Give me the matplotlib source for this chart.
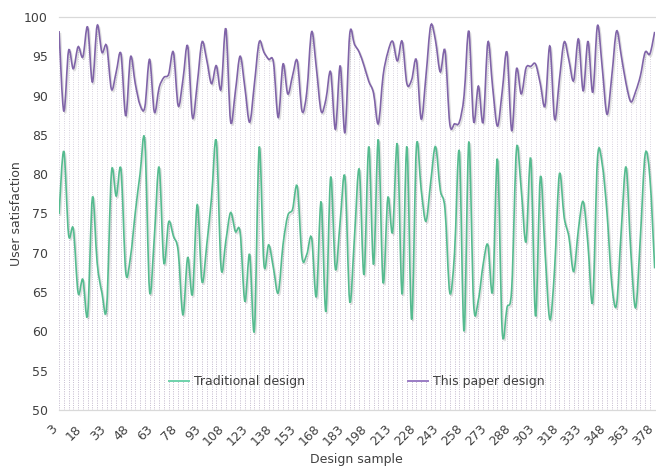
import numpy as np
import matplotlib
matplotlib.use("Agg")
import matplotlib.pyplot as plt
import matplotlib.transforms as mtransforms
from matplotlib.path import Path
from matplotlib.patches import PathPatch
import matplotlib.patheffects as pe

########### data ###########

samples = list(range(3, 381, 3))   # design sample categories 3, 6, ..., 378

traditional = [
    74.9, 82.9, 72.3, 73.0, 64.9, 66.6, 62.1, 77.0, 68.7, 64.9,
    63.1, 80.2, 77.2, 80.6, 67.5, 69.5, 75.1, 80.0, 84.2, 65.1,
    72.0, 80.9, 68.7, 73.9, 72.1, 70.2, 62.1, 69.4, 64.7, 76.1,
    66.3, 71.0, 77.0, 84.2, 68.1, 71.5, 75.1, 72.7, 72.6, 63.8,
    69.8, 60.2, 83.4, 68.5, 71.0, 68.0, 64.9, 71.0, 74.7, 75.5,
    78.4, 69.4, 69.8, 71.9, 64.4, 76.5, 62.5, 79.6, 67.9, 74.0,
    79.6, 63.8, 72.0, 80.6, 67.2, 83.5, 68.5, 84.4, 66.2, 77.0,
    72.6, 83.8, 64.7, 83.5, 61.5, 83.5, 78.0, 74.0, 79.0, 83.5,
    78.0, 75.5, 64.9, 70.0, 82.9, 60.0, 84.1, 63.5, 64.0, 68.5,
    71.0, 65.1, 81.9, 60.0, 63.0, 65.5, 83.2, 78.0, 71.4, 81.9,
    61.9, 79.6, 70.0, 61.5, 68.0, 80.0, 74.5, 72.0, 67.6, 73.0,
    76.5, 71.0, 63.8, 82.0, 81.2, 75.0, 66.0, 63.4, 73.0, 80.9,
    70.0, 63.0, 72.0, 82.5, 79.5, 68.0,
]

this_paper = [
    98.2, 88.0, 95.7, 93.4, 96.2, 94.9, 98.7, 91.7, 98.9, 95.5,
    96.3, 90.8, 93.0, 95.3, 87.4, 94.9, 91.5, 88.8, 88.5, 94.6,
    87.9, 91.0, 92.3, 92.7, 95.5, 88.7, 92.0, 96.3, 87.2, 91.5,
    96.8, 94.5, 91.5, 93.8, 90.8, 98.5, 86.7, 90.5, 95.0, 91.0,
    86.6, 91.5, 96.8, 95.5, 94.6, 94.2, 87.2, 94.0, 90.2, 92.5,
    94.4, 88.0, 90.5, 98.1, 93.5, 88.0, 89.5, 93.0, 85.7, 93.8,
    85.3, 97.8, 96.5, 95.5, 93.8, 91.8, 90.3, 86.4, 92.5, 95.5,
    96.9, 94.4, 96.9, 91.5, 92.0, 94.5, 87.0, 92.5, 98.9, 97.0,
    93.0, 95.7, 86.4, 86.4, 86.6, 90.0, 98.2, 86.7, 91.2, 86.6,
    96.8, 91.0, 86.1, 90.5, 95.5, 85.5, 93.4, 90.2, 93.5, 93.7,
    94.0, 91.5, 88.7, 96.3, 87.0, 92.0, 96.8, 94.5, 91.9, 97.2,
    90.6, 96.9, 90.4, 98.9, 93.5, 87.6, 92.5, 98.2, 95.0, 91.5,
    89.2, 90.5, 92.5, 95.5, 95.3, 98.1,
]

tick_labels = ['3', '18', '33', '48', '63', '78', '93', '108', '123', '138',
               '153', '168', '183', '198', '213', '228', '243', '258', '273',
               '288', '303', '318', '333', '348', '363', '378']
y_ticks = [50, 55, 60, 65, 70, 75, 80, 85, 90, 95, 100]

############################

text_col = '#404040'
green = '#55bb8f'
purple = '#8064a8'
drop_col = '#c2b9cd'


def smooth_path(x, y):
    # bezier curve through the points, like a spreadsheet "smoothed line"
    x = np.asarray(x, float)
    y = np.asarray(y, float)
    n = len(x)
    verts = [(x[0], y[0])]
    codes = [Path.MOVETO]
    for i in range(n - 1):
        i0 = max(i - 1, 0)
        i3 = min(i + 2, n - 1)
        c1 = (x[i] + (x[i + 1] - x[i0]) / 6, y[i] + (y[i + 1] - y[i0]) / 6)
        c2 = (x[i + 1] - (x[i3] - x[i]) / 6, y[i + 1] - (y[i3] - y[i]) / 6)
        verts += [c1, c2, (x[i + 1], y[i + 1])]
        codes += [Path.CURVE4] * 3
    return Path(verts, codes)


fig = plt.figure(figsize=(6.56, 4.70), dpi=100)
ax = fig.add_axes([0.09, 0.128, 0.908, 0.836])

# drop lines
ax.vlines(samples, 50, this_paper, colors=drop_col, linestyles=(0, (1, 2)), lw=0.55, zorder=1)
ax.vlines(samples, 50, traditional, colors=drop_col, linestyles=(0, (1, 2)), lw=0.55, zorder=1)

shadow = [pe.SimpleLineShadow(offset=(1.0, -1.3), shadow_color='#000000', alpha=0.12), pe.Normal()]
for vals, col in [(traditional, green), (this_paper, purple)]:
    patch = PathPatch(smooth_path(samples, vals), fill=False, edgecolor=col, lw=1.2, zorder=3)
    patch.set_path_effects(shadow)
    ax.add_patch(patch)

# legend handles
ax.plot([], [], color='#6fd2ab', lw=1.4, label='Traditional design')
ax.plot([], [], color='#9a7cc4', lw=1.4, label='This paper design')

ax.set_xlim(samples[0], samples[-1])
ax.set_ylim(50, 100)
ax.set_yticks(y_ticks)
ax.set_xticks(samples[::5])
ax.set_xticklabels(tick_labels, rotation=45, ha='right', rotation_mode='anchor')
ax.tick_params(axis='both', length=0, labelsize=9, colors=text_col)
ax.tick_params(axis='x', pad=9)
ax.tick_params(axis='y', pad=8)

shift = mtransforms.ScaledTranslation(-0.08, 0, fig.dpi_scale_trans)
for lab in ax.get_xticklabels():
    lab.set_transform(lab.get_transform() + shift)

for s in ax.spines.values():
    s.set_color('#d9d9d9')
    s.set_linewidth(0.9)
ax.spines['left'].set_visible(False)
ax.spines['right'].set_visible(False)

ax.set_xlabel('Design sample', fontsize=9, color=text_col, labelpad=3)
ax.set_ylabel('User satisfaction', fontsize=9, color=text_col, labelpad=1)

ax.legend(loc='center', bbox_to_anchor=(0.5, 0.071), ncol=2, frameon=False,
          fontsize=9, labelcolor=text_col, handlelength=1.6, handletextpad=0.4,
          columnspacing=8.2)

fig.savefig('out.png', dpi=100)
